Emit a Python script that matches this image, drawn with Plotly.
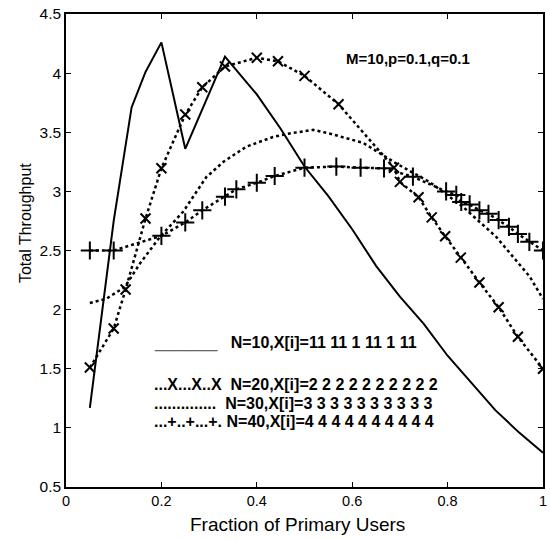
import plotly.graph_objects as go

# N=10 (solid)
x10 = [0.05, 0.1, 0.1375, 0.1667, 0.2, 0.25, 0.3333, 0.4, 0.45, 0.5, 0.55, 0.6, 0.65, 0.7, 0.75, 0.8, 0.85, 0.9, 0.95, 1.0]
y10 = [1.17, 2.75, 3.71, 4.01, 4.26, 3.36, 4.14, 3.82, 3.53, 3.21, 2.96, 2.68, 2.37, 2.11, 1.88, 1.61, 1.38, 1.15, 0.96, 0.79]

# N=20 (dotted with x markers)
x20 = [0.05, 0.1, 0.125, 0.1667, 0.2, 0.25, 0.2857, 0.3333, 0.4, 0.4444, 0.5, 0.5714, 0.6875, 0.7, 0.7391, 0.7667, 0.7949, 0.8276, 0.8667, 0.907, 0.9474, 1.0]
y20 = [1.51, 1.84, 2.17, 2.77, 3.195, 3.65, 3.88, 4.056, 4.13, 4.10, 3.977, 3.737, 3.20, 3.08, 2.95, 2.78, 2.62, 2.44, 2.23, 2.02, 1.77, 1.50]

# N=30 (dotted)
x30 = [0.05, 0.085, 0.123, 0.155, 0.197, 0.246, 0.294, 0.33, 0.378, 0.434, 0.469, 0.518, 0.552, 0.623, 0.692, 0.762, 0.832, 0.902, 0.972, 1.0]
y30 = [2.056, 2.093, 2.19, 2.39, 2.615, 2.83, 3.12, 3.25, 3.378, 3.46, 3.49, 3.52, 3.49, 3.41, 3.237, 3.08, 2.87, 2.615, 2.28, 2.09]

# N=40 (dotted with + markers)
x40 = [0.05, 0.1, 0.2, 0.25, 0.2857, 0.3333, 0.3571, 0.4, 0.4375, 0.5, 0.5667, 0.6176, 0.6667, 0.7273, 0.7969, 0.8182, 0.8286, 0.8462, 0.8667, 0.8857, 0.907, 0.9286, 0.9474, 0.9714, 1.0]
y40 = [2.5, 2.5, 2.624, 2.737, 2.84, 2.955, 3.017, 3.073, 3.13, 3.20, 3.21, 3.20, 3.195, 3.124, 3.0, 2.97, 2.91, 2.89, 2.84, 2.81, 2.757, 2.70, 2.64, 2.573, 2.50]

xticks = [0, 0.2, 0.4, 0.6, 0.8, 1]
yticks = [0.5, 1, 1.5, 2, 2.5, 3, 3.5, 4, 4.5]

legend_rows = [
    ("<span style='font-weight:normal;color:#666'>_______</span>&nbsp;&nbsp;&nbsp;N=10,X[i]=11 11 1 11 1 11", 1.72),
    ("...X...X..X&nbsp;&nbsp;N=20,X[i]=2 2 2 2 2 2 2 2 2 2", 1.365),
    ("..............&nbsp;&nbsp;N=30,X[i]=3 3 3 3 3 3 3 3 3 3", 1.205),
    ("...+..+...+. N=40,X[i]=4 4 4 4 4 4 4 4 4 4", 1.055),
]

FONT = "Liberation Sans, Arial, sans-serif"
fig = go.Figure()
fig.add_trace(go.Scatter(x=x10, y=y10, mode="lines", line=dict(color="black", width=2)))
fig.add_trace(go.Scatter(x=x20, y=y20, mode="lines+markers", line=dict(color="black", width=2.5, dash="dot"),
                         marker=dict(symbol="x-thin-open", size=10, line=dict(color="black", width=2))))
fig.add_trace(go.Scatter(x=x30, y=y30, mode="lines", line=dict(color="black", width=2.5, dash="dot")))
fig.add_trace(go.Scatter(x=x40, y=y40, mode="lines+markers", line=dict(color="black", width=2.5, dash="dot"),
                         marker=dict(symbol="cross-thin-open", size=13, line=dict(color="black", width=2))))

for txt, yy in legend_rows:
    fig.add_annotation(x=0.18, y=yy, xref="x", yref="y", text=txt, showarrow=False, xanchor="left",
                       yanchor="middle", font=dict(family=FONT, size=16, color="black", weight="bold"))

fig.add_annotation(x=0.716, y=4.127, xref="x", yref="y", text="M=10,p=0.1,q=0.1", showarrow=False,
                   xanchor="center", yanchor="middle", font=dict(family=FONT, size=15, color="black", weight="bold"))

# axis titles (placed as in the reference, slightly off-centre)
fig.add_annotation(x=0.486, y=-0.080, xref="paper", yref="paper", text="Fraction of Primary Users",
                   showarrow=False, xanchor="center", yanchor="middle", font=dict(family=FONT, size=19, color="black"))
fig.add_annotation(x=-0.086, y=0.558, xref="paper", yref="paper", text="Total Throughput", textangle=-90,
                   showarrow=False, xanchor="center", yanchor="middle", font=dict(family=FONT, size=16, color="black"))

axis_common = dict(showgrid=False, zeroline=False, showline=True, linecolor="black", linewidth=1.5,
                   mirror="ticks", ticks="inside", ticklen=5, tickwidth=1, tickcolor="black",
                   automargin=False, ticklabeloverflow="allow")
fig.update_xaxes(range=[0, 1], tickvals=xticks, ticktext=[f"{v:g}" for v in xticks],
                 tickfont=dict(family=FONT, size=14.5, color="black"), **axis_common)
fig.update_yaxes(range=[0.5, 4.5], tickvals=yticks, ticktext=[f"{v:g}" for v in yticks],
                 tickfont=dict(family=FONT, size=15.5, color="black"), **axis_common)
fig.update_layout(width=550, height=539, margin=dict(l=66, r=7, t=14, b=52), showlegend=False,
                  plot_bgcolor="white", paper_bgcolor="white")
fig.write_html("out.html", config={"displayModeBar": False},
               post_script="document.body.style.margin='0px';document.body.style.overflow='hidden';")
